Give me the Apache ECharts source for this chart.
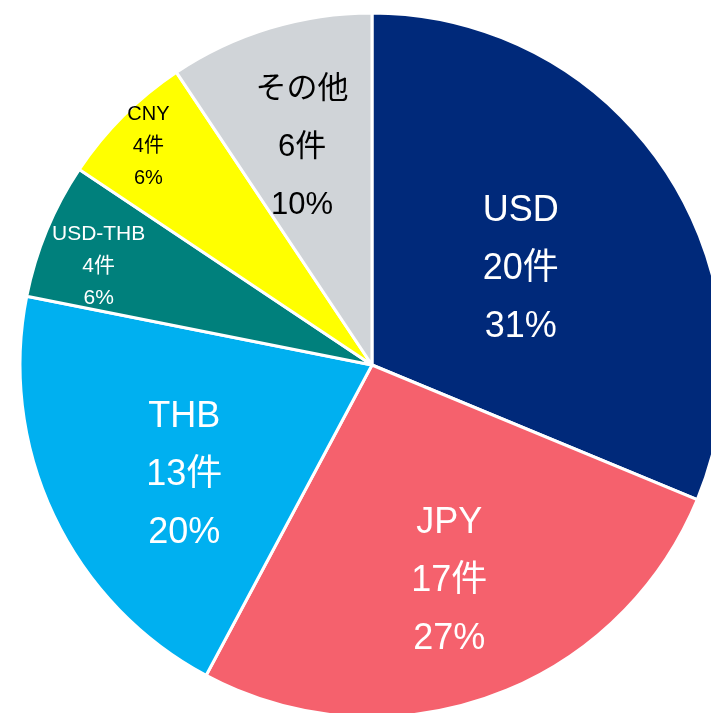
<!DOCTYPE html>
<html>
<head>
<meta charset="utf-8">
<script src="https://cdn.jsdelivr.net/npm/echarts@6/dist/echarts.min.js"></script>
<style>
  html, body { margin: 0; padding: 0; background: #fff; }
  #chart { width: 711px; height: 713px; }
</style>
</head>
<body>
<div id="chart"></div>
<script>
// データ
const names = ['USD', 'JPY', 'THB', 'USD-THB', 'CNY', 'その他']
const counts = [20, 17, 13, 4, 4, 6]
const percents = ['31%', '27%', '20%', '6%', '6%', '10%']

// 見た目（色・ラベル位置・文字サイズ）
const colors = ['#00297A', '#F5616D', '#00B0F0', '#00807C', '#FFFF00', '#D0D4D8']
const textColors = ['#fff', '#fff', '#fff', '#fff', '#000', '#000']
const fontSizes = [36, 36, 36, 21, 20, 31]
const lineHeights = [58, 58, 58, 32, 32, 58]
const labelOffsets = [[0, 4], [17, 48], [-26, 34], [-108, -30], [-97, -92], [-18, -46]]

const chart = echarts.init(document.getElementById('chart'))

const seriesData = names.map((name, i) => ({
  name: name,
  value: counts[i],
  itemStyle: { color: colors[i] },
  label: {
    color: textColors[i],
    fontSize: fontSizes[i],
    lineHeight: lineHeights[i],
    offset: labelOffsets[i]
  }
}))

chart.setOption({
  animation: false,
  series: [
    {
      type: 'pie',
      center: [372, 365],
      radius: 352,
      startAngle: 90,
      clockwise: true,
      avoidLabelOverlap: false,
      itemStyle: { borderColor: '#fff', borderWidth: 3 },
      label: {
        show: true,
        position: 'inside',
        fontFamily: "'Liberation Sans', Arial, 'Noto Sans CJK JP', sans-serif",
        formatter: (p) => p.name + '\n' + p.value + '件\n' + percents[p.dataIndex]
      },
      labelLine: { show: false },
      emphasis: { disabled: true },
      data: seriesData
    }
  ]
})
</script>
</body>
</html>
